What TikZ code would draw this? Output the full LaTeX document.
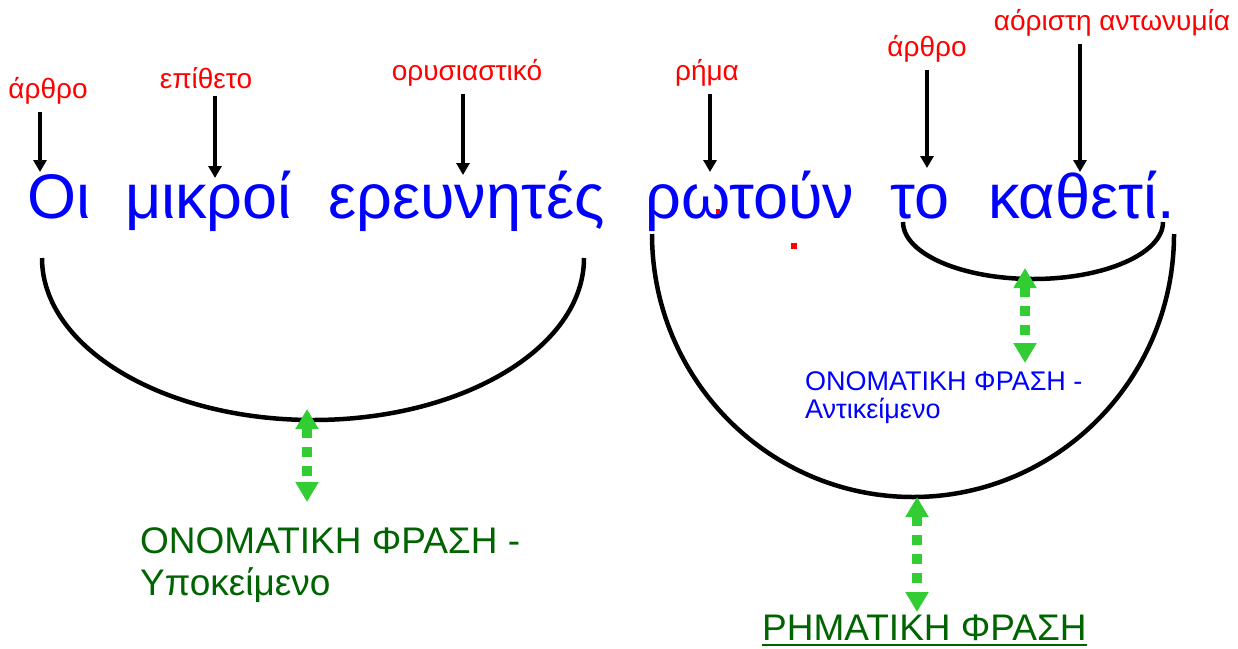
\documentclass[tikz,border=0pt]{standalone}
\usepackage{fontspec}
\setmainfont{Liberation Sans}
\usetikzlibrary{arrows.meta,positioning}
\definecolor{wordblue}{RGB}{0,0,255}
\definecolor{tagred}{RGB}{255,0,0}
\definecolor{phrasegreen}{RGB}{0,100,0}
\definecolor{linkgreen}{RGB}{50,205,50}
\tikzset{
  word/.style={anchor=base west, inner sep=0pt, text=wordblue, font=\fontsize{63}{63}\selectfont},
  tag/.style={anchor=base, inner sep=0pt, text=tagred, font=\fontsize{28}{28}\selectfont},
  pointer/.style={line width=4.5pt, -{Triangle[width=13pt,length=12pt]}, shorten <=8pt},
  bracket/.style={line width=4.5pt},
  link/.style={linkgreen, line width=9.5pt, dash pattern=on 10pt off 9pt,
    {Triangle[width=22pt,length=20pt]}-{Triangle[width=22pt,length=20pt]}},
  phrase/.style={anchor=base west, inner sep=0pt}
}
\begin{document}
\begin{tikzpicture}[x=1pt,y=-1pt]
			\useasboundingbox (0,0) rectangle (1238,648);
			
			%%%%% sentence %%%%%
			\node[word] (oi) at (27,218) {Οι};
			\node[word] (mikroi) at (125,218) {μικροί};
			\node[word] (erevnites) at (328,218) {ερευνητές};
			\node[word] (rotoun) at (645,218) {ρωτούν};
			\node[word] (to) at (890,218) {το};
			\node[word] (katheti) at (988,218) {καθετί.};
			
			\fill[tagred] (716,209) rectangle (720,214);
			\fill[tagred] (791,243) rectangle (797,249);
			
			%%%%% parts of speech %%%%%
			\node[tag] (tagoi) at (48,98) {άρθρο};
			\node[tag] (tagmikroi) at (206,88) {επίθετο};
			\node[tag] (tagerevnites) at (467,80) {ορυσιαστικό};
			\node[tag] (tagrotoun) at (707,80) {ρήμα};
			\node[tag] (tagto) at (927,56) {άρθρο};
			\node[tag] (tagkatheti) at (1112,30) {αόριστη αντωνυμία};
			
			\coordinate (tipoi) at (40,172);
			\coordinate (tipmikroi) at (215,178);
			\coordinate (tiperevnites) at (463,175);
			\coordinate (tiprotoun) at (710,172);
			\coordinate (tipto) at (927,168);
			\coordinate (tipkatheti) at (1080,172);
			
			\draw[pointer] (tagoi.south -| tipoi) -- (tipoi);
			\draw[pointer] (tagmikroi.south -| tipmikroi) -- (tipmikroi);
			\draw[pointer] (tagerevnites.south -| tiperevnites) -- (tiperevnites);
			\draw[pointer] (tagrotoun.south -| tiprotoun) -- (tiprotoun);
			\draw[pointer] (tagto.south -| tipto) -- (tipto);
			\draw[pointer] (tagkatheti.south -| tipkatheti) -- (tipkatheti);
			
			%%%%% phrases %%%%%
			\draw[bracket] (42,258) arc[start angle=180, end angle=360, x radius=271pt, y radius=162pt];
			\draw[bracket] (652,234) arc[start angle=180, end angle=360, x radius=261pt, y radius=263pt];
			\draw[bracket] (903,222) arc[start angle=180, end angle=360, x radius=130pt, y radius=57pt];
			
			\coordinate (subjlow) at (307,409);
			\coordinate (objlow) at (1025,268);
			\coordinate (verblow) at (917,497);
			
			\node[phrase, text=phrasegreen, font=\fontsize{37}{37}\selectfont] (subjA) at (140,553) {ΟΝΟΜΑΤΙΚΗ ΦΡΑΣΗ -};
			\node[phrase, text=phrasegreen, font=\fontsize{37}{37}\selectfont] (subjB) at (140,595) {Υποκείμενο};
			\node[phrase, text=wordblue, font=\fontsize{27}{27}\selectfont] (objA) at (805,390) {ΟΝΟΜΑΤΙΚΗ ΦΡΑΣΗ -};
			\node[phrase, text=wordblue, font=\fontsize{27}{27}\selectfont] (objB) at (805,418) {Αντικείμενο};
			\node[phrase, text=phrasegreen, font=\fontsize{37}{37}\selectfont] (verbA) at (762,640) {ΡΗΜΑΤΙΚΗ ΦΡΑΣΗ};
			\draw[phrasegreen, line width=2pt] ([yshift=-5pt]verbA.base west) -- ([yshift=-5pt]verbA.base east);
			
			\draw[link] (subjlow) -- (subjlow |- 0,502);
			\draw[link] (objlow) -- (objlow |- 0,363);
			\draw[link] (verblow) -- (verblow |- 0,612);
			
\end{tikzpicture}
\end{document}
